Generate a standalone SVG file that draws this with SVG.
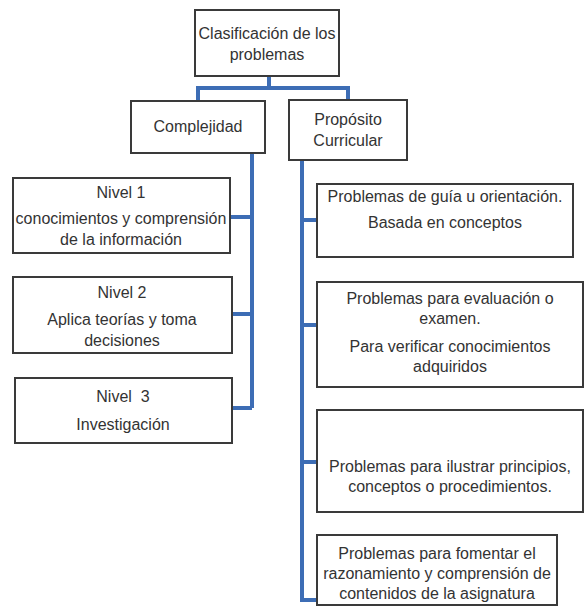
<svg xmlns="http://www.w3.org/2000/svg" width="585" height="608" viewBox="0 0 585 608">
<style>
.box{fill:#fff;stroke:#3a3a3a;stroke-width:2}
.t{font-family:"Liberation Sans",Arial,sans-serif;font-size:16px;fill:#333;text-anchor:middle}
.c{fill:none;stroke:#3d6db5;stroke-width:4;stroke-linejoin:miter}
</style>
<rect width="585" height="608" fill="#fff"/>
<g id="connectors">
<path class="c" d="M269,76 V88 M198,88 H348 M198,86 V101 M348,86 V100"/>
<path class="c" d="M252,153 V408 M230,217 H252 M232,314 H252 M232,408 H252"/>
<path class="c" d="M302,160 V600 M302,220 H317 M302,325 H317 M302,462 H317 M300,600 H317"/>
</g>
<g id="root"><rect class="box" x="195" y="10" width="144" height="66"/>
<text class="t" x="267" y="39">Clasificación de los</text><text class="t" x="267" y="60">problemas</text></g>
<g id="complejidad"><rect class="box" x="131" y="101" width="134" height="52"/>
<text class="t" x="198" y="132">Complejidad</text></g>
<g id="proposito"><rect class="box" x="289" y="100" width="118" height="60"/>
<text class="t" x="348" y="125">Propósito</text><text class="t" x="348" y="146">Curricular</text></g>
<g id="nivel1"><rect class="box" x="13" y="178" width="217" height="75"/>
<text class="t" x="121" y="198">Nivel 1</text><text class="t" x="121" y="224">conocimientos y comprensión</text><text class="t" x="121" y="245">de la información</text></g>
<g id="nivel2"><rect class="box" x="13" y="277" width="219" height="76"/>
<text class="t" x="122" y="298">Nivel 2</text><text class="t" x="122" y="325">Aplica teorías y toma</text><text class="t" x="122" y="346">decisiones</text></g>
<g id="nivel3"><rect class="box" x="15" y="378" width="217" height="65"/>
<text class="t" x="123" y="402" xml:space="preserve">Nivel  3</text><text class="t" x="123" y="430">Investigación</text></g>
<g id="guia"><rect class="box" x="317" y="184" width="256" height="73"/>
<text class="t" x="445" y="202">Problemas de guía u orientación.</text><text class="t" x="445" y="228">Basada en conceptos</text></g>
<g id="evaluacion"><rect class="box" x="317" y="282" width="266" height="105"/>
<text class="t" x="450" y="304">Problemas para evaluación o</text><text class="t" x="450" y="324">examen.</text><text class="t" x="450" y="352">Para verificar conocimientos</text><text class="t" x="450" y="372">adquiridos</text></g>
<g id="ilustrar"><rect class="box" x="317" y="410" width="266" height="102"/>
<text class="t" x="450" y="472">Problemas para ilustrar principios,</text><text class="t" x="450" y="492">conceptos o procedimientos.</text></g>
<g id="fomentar"><rect class="box" x="317" y="535" width="240" height="70"/>
<text class="t" x="437" y="559">Problemas para fomentar el</text><text class="t" x="437" y="579">razonamiento y comprensión de</text><text class="t" x="437" y="599">contenidos de la asignatura</text></g>
</svg>
